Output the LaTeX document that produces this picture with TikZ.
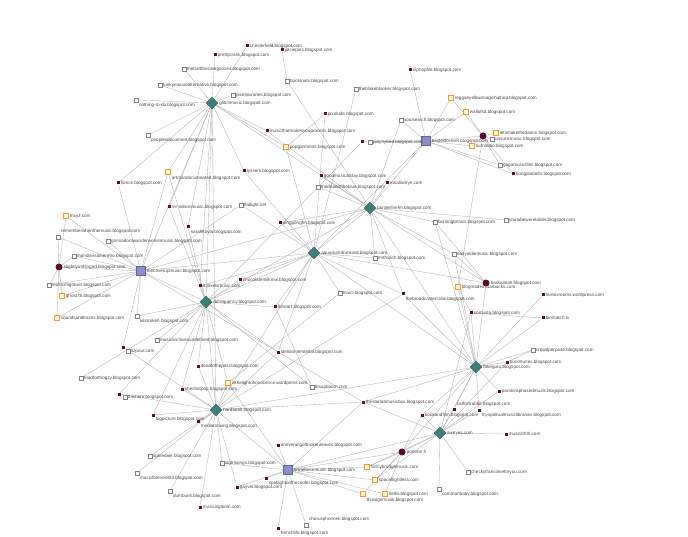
\documentclass[tikz,border=0pt]{standalone}
\usepackage{fontspec}
\setmainfont{Liberation Sans}
\usetikzlibrary{shapes.geometric,backgrounds}
\definecolor{hubteal}{HTML}{3E7F7C}
\definecolor{hubpurple}{HTML}{8C8CD0}
\definecolor{maroon}{HTML}{5C0A2E}
\definecolor{edgegray}{HTML}{B0B0B0}
\tikzset{
  edge/.style={draw=edgegray, line width=0.35pt},
  th/.style={diamond, fill=hubteal, draw=hubteal!70!black, line width=0.3pt, minimum size=12pt, inner sep=0pt},
  ph/.style={rectangle, fill=hubpurple, draw=hubpurple!70!black, line width=0.3pt, minimum size=9pt, inner sep=0pt},
  ms/.style={rectangle, fill=maroon, minimum size=3pt, inner sep=0pt},
  mb/.style={circle, fill=maroon, minimum size=7pt, inner sep=0pt},
  ws/.style={rectangle, fill=white, draw=black!50, line width=0.3pt, minimum size=3.5pt, inner sep=0pt},
  os/.style={rectangle, fill=yellow!15, draw=orange!85, line width=0.4pt, minimum size=5pt, inner sep=0pt},
  lbl/.style={font=\fontsize{4.6}{5}\selectfont, text=black!72, inner sep=1pt},
  lr/.style={label={[lbl,anchor=west]east:#1}},
  lb/.style={label={[lbl,anchor=north west]south east:#1}},
  la/.style={label={[lbl,anchor=south west]north east:#1}},
}
\begin{document}
\begin{tikzpicture}[x=1pt,y=-1pt]
\useasboundingbox (0,0) rectangle (688,537);
% hubs
\node[th,lr={glitchmusic.blogspot.com}] (A) at (212,103) {};
\node[th,lr={borderlinefm.blogspot.com}] (B) at (370,208) {};
\node[th,lr={aquariumdrunkard.blogspot.com}] (C) at (314,253) {};
\node[th,lr={rbfrequency.blogspot.com}] (D) at (206,302) {};
\node[th,lr={hardtotell.blogspot.com}] (E) at (216,410) {};
\node[th,lr={fakeguru.blogspot.com}] (F) at (476,367) {};
\node[th,lr={sixeyes.com}] (G) at (440,433) {};
\node[ph,lr={bsidesforever.blogspot.com}] (P) at (426,141) {};
\node[ph,lr={thecoverupmusic.blogspot.com}] (Q) at (141,271) {};
\node[ph,lr={bruteforcemusic.blogspot.com}] (R) at (288,470) {};
\node[mb] (M1) at (483,136) {};
\node[mb,lr={slightlyunhinged.blogspot.com}] (M2) at (59,267) {};
\node[mb,lr={badoublah.blogspot.com}] (M3) at (486,283) {};
\node[mb,lr={pomme.fr}] (M4) at (402,452) {};
% top
\node[ms,lr={chesterfield.blogspot.com}] (a1) at (247,46) {};
\node[ms,lr={jolciepins.blogspot.com}] (a2) at (282,50) {};
\node[ms,lr={prettycrank.blogspot.com}] (a3) at (215,55) {};
\node[ws,lr={thebarfthecategorizes.blogspot.com}] (a4) at (184,69) {};
\node[ws,lr={bootsnuts.blogspot.com}] (a5) at (287,81) {};
\node[ws,lr={funkymousealternative.blogspot.com}] (a6) at (160,85) {};
\node[ws,lr={pixelpixnotes.blogspot.com}] (a7) at (233,95) {};
\node[ws,lb={nothing-to-do.blogspot.com}] (a8) at (136,100) {};
\node[ws,lb={peoplesdocument.blogspot.com}] (a9) at (148,135) {};
\node[ws,lr={theblakeblanker.blogspot.com}] (a10) at (356,89) {};
\node[ms,lr={pixolude.blogspot.com}] (a11) at (325,114) {};
\node[ms,lr={musicthatmakesyouprocess.blogspot.com}] (a12) at (267,131) {};
\node[os,lr={popgarments.blogspot.com}] (a13) at (286,147) {};
\node[ms] (a14) at (362,142) {};
\node[ws,lr={polyhybrid.blogspot.com}] (a14b) at (370,142) {};
\node[ms,lr={hiphopfile.blogspot.com}] (a15) at (410,70) {};
\node[ws,lr={soulsearch.blogspot.com}] (a16) at (401,120) {};
\node[os,lr={reggaeyellowmagichiphop.blogspot.com}] (a18) at (451,98) {};
\node[os,lr={wallofsd.blogspot.com}] (a19) at (466,112) {};
\node[os,lr={letsmakethedance.blogspot.com}] (a20) at (496,133) {};
\node[ws,lr={unsunkmusic.blogspot.com}] (a20b) at (492,139) {};
\node[os,lr={tiurnitube.blogspot.com}] (a21) at (472,146) {};
\node[ws,lr={gagamusicfiles.blogspot.com}] (a22) at (500,165) {};
\node[ms,lr={bongolabinfo.blogspot.com}] (a23) at (513,174) {};
% middle
\node[ms,lr={lyssem.blogspot.com}] (b1) at (244,171) {};
\node[ms,lr={goodmusicallday.blogspot.com}] (b2) at (321,176) {};
\node[ws,lr={thedeadoftheblue.blogspot.com}] (b3) at (318,187) {};
\node[ms,lr={rosalindrye.com}] (b4) at (387,183) {};
\node[ws,lr={flatlight.net}] (b5) at (241,205) {};
\node[ms,lr={pingpongfm.blogspot.com}] (b6) at (280,223) {};
\node[ws,lr={mrthvlich.blogspot.com}] (b7) at (375,258) {};
\node[ms,lr={chocolatemilkmix.blogspot.com}] (b8) at (240,280) {};
\node[ws,lr={borningtotrain.blogspot.com}] (b9) at (435,222) {};
\node[ws,lr={youtubewerebilder.blogspot.com}] (b10) at (506,220) {};
\node[ws,lr={easyindiemusic.blogspot.com}] (b11) at (454,254) {};
\node[os,lr={blogmadeinstarbucks.com}] (b12) at (458,287) {};
\node[ms,lb={thebroadcastercrew.blogspot.com}] (b13) at (403,294) {};
\node[ws,lr={lnuicl.blogspot.com}] (b14) at (340,293) {};
\node[ms,lr={fivesixrooms.wordpress.com}] (b15) at (543,295) {};
\node[ms,lr={somusta.blogspot.com}] (b16) at (471,313) {};
\node[ms,lr={birdcatch.tv}] (b17) at (543,318) {};
\node[ws,lr={crowdperpose.blogspot.com}] (b18) at (533,350) {};
\node[ms,lr={boomtunes.blogspot.com}] (b19) at (507,362) {};
\node[ms,lr={pandoraphasedmuzik.blogspot.com}] (b20) at (499,391) {};
\node[ms,la={catfishrabbit.blogspot.com}] (b21) at (454,409) {};
\node[ms,lb={myspiritualmusiclibrarian.blogspot.com}] (b22) at (479,410) {};
\node[ms,lr={bookandfilm.blogspot.com}] (b23) at (422,415) {};
\node[ms,lr={thestarlabmusicbox.blogspot.com}] (b24) at (363,402) {};
\node[ms,lr={musir2000.com}] (b25) at (506,434) {};
\node[ws,lr={checkyfrancoiseforyou.com}] (b26) at (468,472) {};
\node[ws,lb={commonbaby.blogspot.com}] (b27) at (439,489) {};
% left
\node[ms,lr={fionce.blogspot.com}] (c1) at (118,183) {};
\node[os,lb={artmandocumented.blogspot.com}] (c2) at (168,172) {};
\node[ms,lr={mr-wilsonmusic.blogspot.com}] (c3) at (169,207) {};
\node[os,lr={tnxyz.com}] (c4) at (66,216) {};
\node[ws,la={rememberwhenthemusic.blogspot.com}] (c5) at (58,237) {};
\node[ms,lb={sarahkayla.blogspot.com}] (c6) at (188,227) {};
\node[ws,lr={gonnadontwanderworkinmusic.blogspot.com}] (c7) at (108,241) {};
\node[ws,lr={mondovisioneretro.blogspot.com}] (c8) at (74,256) {};
\node[ws,lr={musicmightwin.blogspot.com}] (c9) at (49,285) {};
\node[os,lr={ghost78.blogspot.com}] (c10) at (62,296) {};
\node[os,lr={soundsandtracks.blogspot.com}] (c11) at (57,318) {};
\node[ms,lr={d.pixelsmusic.com}] (c12) at (200,286) {};
\node[ws,lb={kitstrokeh.blogspot.com}] (c13) at (137,316) {};
\node[ms] (c14) at (123,347) {};
\node[ws,lr={lizpour.com}] (c14b) at (128,351) {};
\node[ws,lr={musicarchivesundefined.blogspot.com}] (c15) at (157,340) {};
\node[ws,lr={foodforthogzy.blogspot.com}] (c16) at (81,378) {};
\node[ms] (c17) at (119,394) {};
\node[ws,lr={thishere.blogspot.com}] (c17b) at (125,397) {};
\node[ms,lr={deadtothepast.blogspot.com}] (c18) at (198,366) {};
\node[ms,lr={sheshotpop.blogspot.com}] (c19) at (182,389) {};
\node[os,lr={inthelightofinnocence.wordpress.com}] (c20) at (228,383) {};
\node[ms,lr={fbheart.blogspot.com}] (c21) at (275,307) {};
\node[ms,lr={stellarinterstellar.blogspot.com}] (c22) at (278,352) {};
\node[ws,lr={fitsupboom.com}] (c23) at (312,387) {};
\node[ms,label={[lbl,anchor=north west]-30:bigpicture.blogspot.com}] (c24) at (153,415) {};
\node[ms,lb={mediamoving.blogspot.com}] (c25) at (198,421) {};
\node[ws,lr={spinedale.blogspot.com}] (c26) at (150,456) {};
\node[ws,lb={musicforever800.blogspot.com}] (c27) at (137,473) {};
\node[ws,lb={dumbunit.blogspot.com}] (c28) at (170,491) {};
\node[ms,lr={musicisgloom.com}] (c29) at (200,507) {};
\node[ws,lr={sightsongs.blogspot.com}] (c30) at (222,463) {};
\node[ms,lr={gayvet.blogspot.com}] (c31) at (237,487) {};
\node[ms,lr={aneveningofbrokenleaves.blogspot.com}] (c32) at (278,445) {};
\node[ms,lb={spotlightonthecooler.blogspot.com}] (c33) at (266,478) {};
\node[ms,lb={frenchlife.blogspot.com}] (c34) at (278,528) {};
\node[ws,la={chorusphonnek.blogspot.com}] (c35) at (306,525) {};
\node[os,lr={fancybrudgemusic.com}] (c36) at (367,467) {};
\node[os,lr={spaceflightless.com}] (c37) at (375,480) {};
\node[os,lr={hellis.blogspot.com}] (c38) at (385,494) {};
\node[os,lb={thissignmusik.blogspot.com}] (c39) at (363,494) {};
% connectors, under the nodes
\begin{pgfonlayer}{background}
\foreach \a/\b in {A/a1,A/a3,A/a4,A/a6,A/a7,A/a8,A/a9,A/a12,A/a13,A/c2,A/c3,A/D,A/Q,A/b1,A/c1,A/B,A/c6,A/E,A/c12,
  a2/a5,a5/B,a10/C,a11/a13,a11/C,a12/B,a13/C,a14/P,a14/D,a14b/P,a15/P,a16/P,a16/B,
  P/a18,P/a19,P/a21,P/a22,P/a23,P/B,P/C,P/M1,M1/a18,M1/a19,M1/a21,M1/a22,M1/a23,M1/a20,M1/a20b,M1/b12,
  B/b2,B/b3,B/b4,B/b9,B/b10,B/b11,B/b7,B/b6,B/C,B/M3,B/F,B/Q,B/b13,B/D,
  C/b5,C/b6,C/b8,C/b14,C/b7,C/c21,C/c22,C/Q,C/D,C/E,C/c12,C/b13,C/M3,C/F,C/b1,
  D/c2,D/c3,D/c6,D/c12,D/c13,D/c15,D/c18,D/c19,D/c20,D/Q,D/E,D/c21,D/c22,D/c16,D/c17,D/c24,D/b8,D/c23,
  Q/c4,Q/c5,Q/c7,Q/c8,Q/M2,Q/c9,Q/c10,Q/c11,Q/c1,Q/c2,Q/c13,Q/c14,Q/b5,Q/b24,
  M2/c4,M2/c5,M2/c8,M2/c9,M2/c10,M2/c11,
  E/c24,E/c25,E/c26,E/c27,E/c28,E/c29,E/c30,E/c31,E/c18,E/c19,E/c20,E/c17,E/R,E/c22,E/F,E/b24,E/c14,E/b13,
  R/c32,R/c33,R/c34,R/c35,R/c36,R/c37,R/c38,R/c39,R/c31,R/c30,R/b24,R/M4,R/G,R/c20,
  M4/c36,M4/c37,M4/c38,M4/c39,M4/G,M4/F,M4/b23,
  F/b15,F/b16,F/b17,F/b18,F/b19,F/b20,F/b21,F/b22,F/b23,F/b24,F/M3,F/b12,F/b11,F/G,F/b13,F/b9,
  G/b25,G/b26,G/b27,G/b21,G/b22,G/b23,G/b20,G/b19,G/b24,G/b16,G/c36,G/c37,
  b14/c20,b18/b19,b17/b16,c23/c21,b9/M3,b11/M3,b12/b16}
  \draw[edge] (\a) -- (\b);
\end{pgfonlayer}
\end{tikzpicture}
\end{document}
